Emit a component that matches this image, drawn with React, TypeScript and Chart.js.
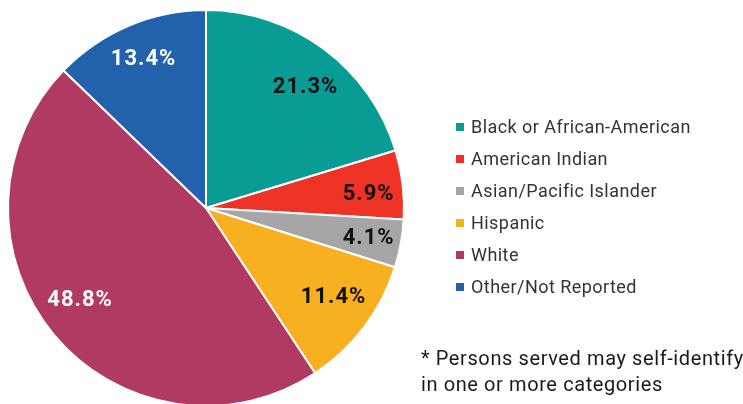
import React, { useEffect, useRef } from "react";
import { Chart, registerables } from "chart.js";

Chart.register(...registerables);

const categories = [
  "Black or African-American",
  "American Indian",
  "Asian/Pacific Islander",
  "Hispanic",
  "White",
  "Other/Not Reported",
];
const values = [21.3, 5.9, 4.1, 11.4, 48.8, 13.4];
const colors = ["#089c94", "#ee3225", "#a6a6a6", "#f9b020", "#b03a61", "#2262ac"];
const labelColors = ["#111111", "#111111", "#111111", "#111111", "#ffffff", "#ffffff"];
const footnote = ["* Persons served may self-identify", "in one or more categories"];

// label placement tweaks: angle nudge (deg) and radius fraction
const labelNudge = [
  { a: 2.5, r: 0.79 },
  { a: 1.5, r: 0.82 },
  { a: 0, r: 0.83 },
  { a: -2, r: 0.78 },
  { a: 4, r: 0.79 },
  { a: 0, r: 0.82 },
];

const labelPlugin = {
  id: "sliceLabels",
  afterDatasetsDraw(chart: any) {
    const ctx = chart.ctx;
    const meta = chart.getDatasetMeta(0);
    ctx.save();
    ctx.font = "bold 22px Roboto";
    (ctx as any).letterSpacing = "1px";
    ctx.textAlign = "center";
    ctx.textBaseline = "middle";
    meta.data.forEach((arc: any, i: number) => {
      const { x, y, startAngle, endAngle, outerRadius } = arc.getProps(
        ["x", "y", "startAngle", "endAngle", "outerRadius"],
        true
      );
      const mid = (startAngle + endAngle) / 2 + (labelNudge[i].a * Math.PI) / 180;
      const r = outerRadius * labelNudge[i].r;
      ctx.fillStyle = labelColors[i];
      ctx.fillText(values[i].toFixed(1) + "%", x + Math.cos(mid) * r + 1, y + Math.sin(mid) * r + 1);
    });
    ctx.restore();
  },
};

export default function App() {
  const ref = useRef<HTMLCanvasElement>(null);
  useEffect(() => {
    document.body.style.margin = "0";
    const chart = new Chart(ref.current!, {
      type: "pie",
      data: {
        labels: categories,
        datasets: [
          {
            data: values,
            backgroundColor: colors,
            borderColor: "#ffffff",
            borderWidth: 2,
          },
        ],
      },
      options: {
        animation: false,
        responsive: false,
        layout: { padding: { left: 7, right: 338, top: 9, bottom: 13 } },
        plugins: { legend: { display: false }, tooltip: { enabled: false } },
      },
      plugins: [labelPlugin],
    });
    return () => chart.destroy();
  }, []);

  return (
    <div
      style={{
        position: "relative",
        width: 743,
        height: 404,
        overflow: "hidden",
        background: "#ffffff",
        fontFamily: "Roboto, sans-serif",
      }}
    >
      <canvas ref={ref} width={743} height={420} style={{ position: "absolute", left: 0, top: 0 }} />
      <div style={{ position: "absolute", left: 456, top: 111 }}>
        {categories.map((c, i) => (
          <div key={c} style={{ display: "flex", alignItems: "center", height: 32 }}>
            <span
              style={{ width: 8, height: 8, background: colors[i], display: "inline-block", marginRight: 7 }}
            />
            <span
              style={{
                fontSize: 18,
                letterSpacing: "0.45px",
                color: "#333333",
                lineHeight: "20px",
                whiteSpace: "nowrap",
              }}
            >
              {c}
            </span>
          </div>
        ))}
      </div>
      <div
        style={{
          position: "absolute",
          left: 421,
          top: 345,
          fontSize: 20,
          letterSpacing: "0.6px",
          lineHeight: "26px",
          color: "#1a1a1a",
          whiteSpace: "nowrap",
        }}
      >
        {footnote.map((t) => (
          <div key={t}>{t}</div>
        ))}
      </div>
    </div>
  );
}
